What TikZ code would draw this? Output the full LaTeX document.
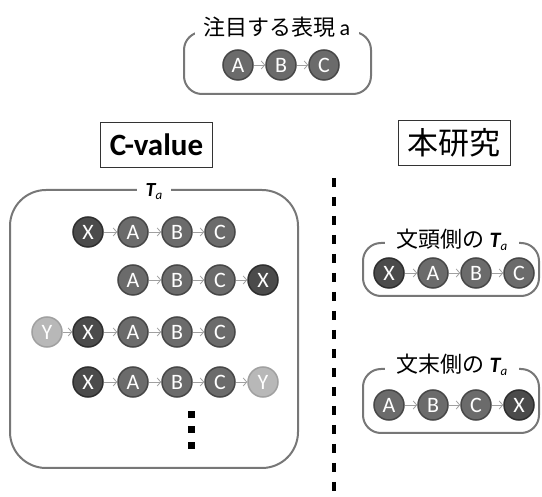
\documentclass[tikz,border=0pt]{standalone}
\usepackage{fontspec}
\newfontfamily\jp{Noto Sans CJK JP}
\newfontfamily\lat{Carlito}
\usetikzlibrary{arrows.meta}
\definecolor{cmid}{HTML}{6B6B6B}
\definecolor{cmidd}{HTML}{474747}
\definecolor{cdark}{HTML}{4B4B4B}
\definecolor{cdarkd}{HTML}{2E2E2E}
\definecolor{clight}{HTML}{B8B8B8}
\definecolor{clightd}{HTML}{A0A0A0}
\definecolor{clink}{HTML}{A0A0A0}
\definecolor{cframe}{HTML}{777777}
\tikzset{
  seq/.style={circle, minimum size=30pt, inner sep=0pt, line width=1.5pt, text=white,
    font=\lat\fontsize{22}{22}\selectfont},
  mid/.style={seq, fill=cmid, draw=cmidd},
  dk/.style={seq, fill=cdark, draw=cdarkd},
  lt/.style={seq, fill=clight, draw=clightd},
  link/.style={draw=clink, line width=0.8pt, -{Straight Barb[length=3.5pt,width=8pt]}},
  frame/.style={draw=cframe, line width=2pt},
  gaplabel/.style={fill=white, inner xsep=10pt, inner ysep=2pt, text=black},
  tagbox/.style={draw=black!80, line width=0.9pt, minimum width=112pt, minimum height=45pt, inner sep=0pt},
  dotsq/.style={fill=black, minimum size=7pt, inner sep=0pt}
}
\newcommand{\Ta}{{\lat\bfseries\itshape T}\raisebox{-3pt}{\lat\itshape\fontsize{13}{13}\selectfont a}}
\begin{document}
\begin{tikzpicture}[x=1pt,y=-1pt]
\useasboundingbox (0,0) rectangle (542,497);

% top box
\draw[frame, rounded corners=18pt] (184,32) rectangle (371,94);
\node[gaplabel, inner xsep=9pt, font=\jp\fontsize{22}{22}\selectfont] (toplab) at (277,27) {注目する表現{\lat\,a}};
\node[mid] (ta) at (238,65) {A};
\node[mid] (tb) at (281,65) {B};
\node[mid] (tc) at (324,65) {C};
\draw[link] (ta) -- (tb);
\draw[link] (tb) -- (tc);

% headings
\node[tagbox, font=\lat\bfseries\fontsize{31}{31}\selectfont] (cval) at (156.5,145) {C-value};
\node[tagbox, font=\jp\fontsize{31}{31}\selectfont] (ours) at (454,143) {本研究};

% dashed divider
\coordinate (dtop) at (334,178);
\coordinate (dbot) at (334,497);
\draw[line width=3.5pt, dash pattern=on 9pt off 10pt] (dtop) -- (dbot);

% big left box
\draw[frame, rounded corners=36pt] (10,190) rectangle (298,468);
\node[gaplabel, inner xsep=9pt, font=\fontsize{20}{20}\selectfont] (biglab) at (154,192) {\Ta};

% row 1
\node[dk]  (a1) at (88,232) {X};
\node[mid] (a2) at (133,232) {A};
\node[mid] (a3) at (177,232) {B};
\node[mid] (a4) at (220,232) {C};
\draw[link] (a1) -- (a2);
\draw[link] (a2) -- (a3);
\draw[link] (a3) -- (a4);
% row 2
\node[mid] (b1) at (133,280) {A};
\node[mid] (b2) at (177,280) {B};
\node[mid] (b3) at (220,280) {C};
\node[dk]  (b4) at (263,280) {X};
\draw[link] (b1) -- (b2);
\draw[link] (b2) -- (b3);
\draw[link] (b3) -- (b4);
% row 3
\node[lt]  (c0) at (47,332) {Y};
\node[dk]  (c1) at (88,332) {X};
\node[mid] (c2) at (133,332) {A};
\node[mid] (c3) at (177,332) {B};
\node[mid] (c4) at (220,332) {C};
\draw[link] (c0) -- (c1);
\draw[link] (c1) -- (c2);
\draw[link] (c2) -- (c3);
\draw[link] (c3) -- (c4);
% row 4
\node[dk]  (d1) at (88,382) {X};
\node[mid] (d2) at (133,382) {A};
\node[mid] (d3) at (177,382) {B};
\node[mid] (d4) at (220,382) {C};
\node[lt]  (d5) at (263,382) {Y};
\draw[link] (d1) -- (d2);
\draw[link] (d2) -- (d3);
\draw[link] (d3) -- (d4);
\draw[link] (d4) -- (d5);
% dots
\node[dotsq] (v1) at (191,415) {};
\node[dotsq] (v2) at (191,430) {};
\node[dotsq] (v3) at (191,446) {};

% right top box
\draw[frame, rounded corners=18pt] (363,243) rectangle (539,296);
\node[gaplabel, inner xsep=12pt, font=\jp\fontsize{22}{22}\selectfont] (rtlab) at (452,240) {文頭側の \Ta};
\node[dk]  (e1) at (389,273) {X};
\node[mid] (e2) at (433,273) {A};
\node[mid] (e3) at (476,273) {B};
\node[mid] (e4) at (519,273) {C};
\draw[link] (e1) -- (e2);
\draw[link] (e2) -- (e3);
\draw[link] (e3) -- (e4);

% right bottom box
\draw[frame, rounded corners=18pt] (363,369) rectangle (539,433);
\node[gaplabel, inner xsep=12pt, font=\jp\fontsize{22}{22}\selectfont] (rblab) at (452,365) {文末側の \Ta};
\node[mid] (f1) at (389,405) {A};
\node[mid] (f2) at (433,405) {B};
\node[mid] (f3) at (476,405) {C};
\node[dk]  (f4) at (519,405) {X};
\draw[link] (f1) -- (f2);
\draw[link] (f2) -- (f3);
\draw[link] (f3) -- (f4);
\end{tikzpicture}
\end{document}
